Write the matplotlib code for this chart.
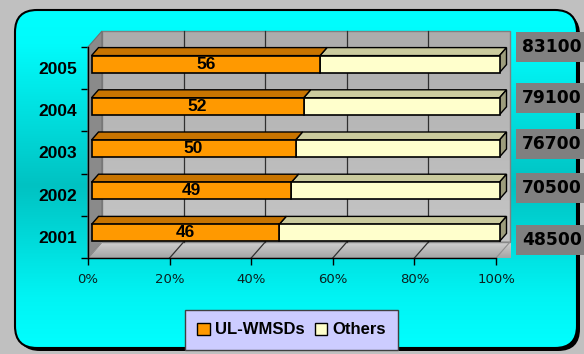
import numpy as np
import matplotlib
matplotlib.use('Agg')
import matplotlib.pyplot as plt
from matplotlib.patches import Polygon, Rectangle, FancyBboxPatch, Patch
from matplotlib.colors import LinearSegmentedColormap

plt.rcParams['font.family'] = ['Liberation Sans', 'DejaVu Sans']

################### DATA ###################
years = ['2001', '2002', '2003', '2004', '2005']
ul_wmsds = [46, 49, 50, 52, 56]           # percent
others = [100 - v for v in ul_wmsds]
totals = ['48500', '70500', '76700', '79100', '83100']
x_ticks = [0, 20, 40, 60, 80, 100]

# manual nudges of the total boxes (text boxes in the original)
total_nudge = [-0.07, 0.15, 0.2, 0.29, 0.5]

################### FIGURE ###################
W, H = 584, 354
fig = plt.figure(figsize=(W / 100, H / 100), dpi=100)
fig.patch.set_facecolor('#c0c0c0')

# background panel in pixel units
bg = fig.add_axes([0, 0, 1, 1])
bg.set_xlim(0, W)
bg.set_ylim(H, 0)
bg.axis('off')

shadow = FancyBboxPatch((18, 13), 562, 338, boxstyle='round,pad=0,rounding_size=22',
                        fc='black', ec='none')
bg.add_patch(shadow)
panel = FancyBboxPatch((15, 10), 562, 338, boxstyle='round,pad=0,rounding_size=22',
                       fc='none', ec='black', lw=1.5, zorder=3)
bg.add_patch(panel)
cyan = LinearSegmentedColormap.from_list('cy', [(0, '#00ffff'), (0.1, '#00fbfb'), (0.52, '#00c2c2'),
                                                (0.85, '#00f4f4'), (1, '#00ffff')])
grad = np.linspace(0, 1, 256).reshape(-1, 1)
im = bg.imshow(grad, cmap=cyan, extent=(15, 577, 348, 10), aspect='auto', zorder=2)
im.set_clip_path(panel)

################### PLOT AREA ###################
ax = fig.add_axes([88 / W, (H - 258) / H, 408 / W, 211 / H])
ax.set_xlim(0, 100)
ax.set_ylim(0, 5)
ax.patch.set_visible(False)

px_x = 408 / 100      # pixels per percent
px_y = 211 / 5        # pixels per category
DX = 14 / px_x        # depth offset of the walls, data units
DY = 16 / px_y

# back wall
back = Polygon([(DX, DY), (100 + DX, DY), (100 + DX, 5 + DY), (DX, 5 + DY)],
               closed=True, fc='none', ec='#808080', lw=1, clip_on=False, zorder=2)
ax.add_patch(back)
gray = LinearSegmentedColormap.from_list('gr', ['#c6c6c6', '#acacac'])
im2 = ax.imshow(grad, cmap=gray, extent=(DX, 100 + DX, 5 + DY, DY), aspect='auto',
                zorder=1, clip_on=False)
im2.set_clip_path(back)

# side wall
side = Polygon([(0, 0), (DX, DY), (DX, 5 + DY), (0, 5)], closed=True,
               fc='#8a8a8a', ec='#707070', lw=0.8, clip_on=False, zorder=2)
ax.add_patch(side)

# floor
floor = Polygon([(0, 0), (100, 0), (100 + DX, DY), (DX, DY)], closed=True,
                fc='none', ec='#909090', lw=0.8, clip_on=False, zorder=2)
ax.add_patch(floor)
floor_cmap = LinearSegmentedColormap.from_list('fl', ['#a4a4a4', '#d0d0d0'])
im3 = ax.imshow(grad, cmap=floor_cmap, extent=(0, 100 + DX, DY, 0), aspect='auto',
                zorder=1, clip_on=False)
im3.set_clip_path(floor)

# gridlines on the back wall and floor
for t in x_ticks[1:-1]:
    ax.plot([t + DX, t + DX], [DY, 5 + DY], color='#303030', lw=0.9, zorder=2, clip_on=False)
    ax.plot([t, t + DX], [0, DY], color='#303030', lw=0.9, zorder=2, clip_on=False)

################### BARS ###################
bar_h = 17 / px_y
bdx, bdy = DX / 2, DY / 2        # bar depth
ox, oy = DX / 4, DY / 4          # bar front face offset


def draw_bar(left, width, yc, front, top, side_c=None):
    y0 = yc - bar_h / 2 + oy
    x0 = left + ox
    top_poly = [(x0, y0 + bar_h), (x0 + width, y0 + bar_h),
                (x0 + width + bdx, y0 + bar_h + bdy), (x0 + bdx, y0 + bar_h + bdy)]
    ax.add_patch(Polygon(top_poly, closed=True, fc=top, ec='black', lw=1, zorder=4,
                         clip_on=False))
    if side_c is not None:
        sp = [(x0 + width, y0), (x0 + width + bdx, y0 + bdy),
              (x0 + width + bdx, y0 + bar_h + bdy), (x0 + width, y0 + bar_h)]
        ax.add_patch(Polygon(sp, closed=True, fc=side_c, ec='black', lw=1, zorder=4,
                             clip_on=False))
    ax.add_patch(Rectangle((x0, y0), width, bar_h, fc=front, ec='black', lw=1.2, zorder=5,
                           clip_on=False))


for i, (u, o) in enumerate(zip(ul_wmsds, others)):
    yc = i + 0.5
    draw_bar(u, o, yc, '#ffffcc', '#cbcb9e', '#9c9c7c')
    draw_bar(0, u, yc, '#ff9900', '#c87400')
    ax.text(u / 2 + ox, yc + oy, str(u), ha='center', va='center', fontsize=12.5,
            fontweight='bold', zorder=6)

################### AXES ###################
for s in ['top', 'right']:
    ax.spines[s].set_visible(False)
for s in ['left', 'bottom']:
    ax.spines[s].set_color('black')
    ax.spines[s].set_linewidth(1)
    ax.spines[s].set_zorder(3)

ax.set_xticks(x_ticks)
ax.set_xticklabels([f'{t}%' for t in x_ticks], fontsize=9.5, family='DejaVu Sans',
                   color='#0a2020')
ax.set_yticks(range(6))
ax.set_yticklabels([])
ax.set_yticks([i + 0.5 for i in range(5)], minor=True)
ax.set_yticklabels(years, minor=True, fontsize=12.5, fontweight='bold')
ax.tick_params(axis='x', length=5, width=1, pad=6)
ax.tick_params(axis='y', which='major', length=5, width=1)
ax.tick_params(axis='y', which='minor', length=0, pad=8)

################### TOTALS ###################
box_x = 100 + 20 / px_x
box_h = 30 / px_y
for i, t in enumerate(totals):
    yc = i + 0.5 + total_nudge[i]
    ax.add_patch(Rectangle((box_x, yc - box_h / 2), 30, box_h, fc='#808080', ec='none',
                           zorder=3, clip_on=False))
    ax.text(box_x + 6 / px_x, yc, t, ha='left', va='center', fontsize=12.3, fontweight='bold',
            family='DejaVu Sans', zorder=4, clip_on=False)

################### LEGEND ###################
handles = [Patch(fc='#ff9900', ec='black', label='UL-WMSDs'),
           Patch(fc='#ffffcc', ec='black', label='Others')]
leg = fig.legend(handles=handles, loc='center', bbox_to_anchor=(291.5 / W, 1 - 330 / H),
                 ncol=2, frameon=True, fancybox=False, prop={'weight': 'bold', 'size': 12},
                 handlelength=0.75, handleheight=0.75, handletextpad=0.3, columnspacing=0.6,
                 borderpad=0.75, borderaxespad=0)
leg.get_frame().set_facecolor('#ccccff')
leg.get_frame().set_edgecolor('#404040')
leg.get_frame().set_alpha(1)

fig.savefig('out.png', dpi=100, facecolor=fig.get_facecolor())
